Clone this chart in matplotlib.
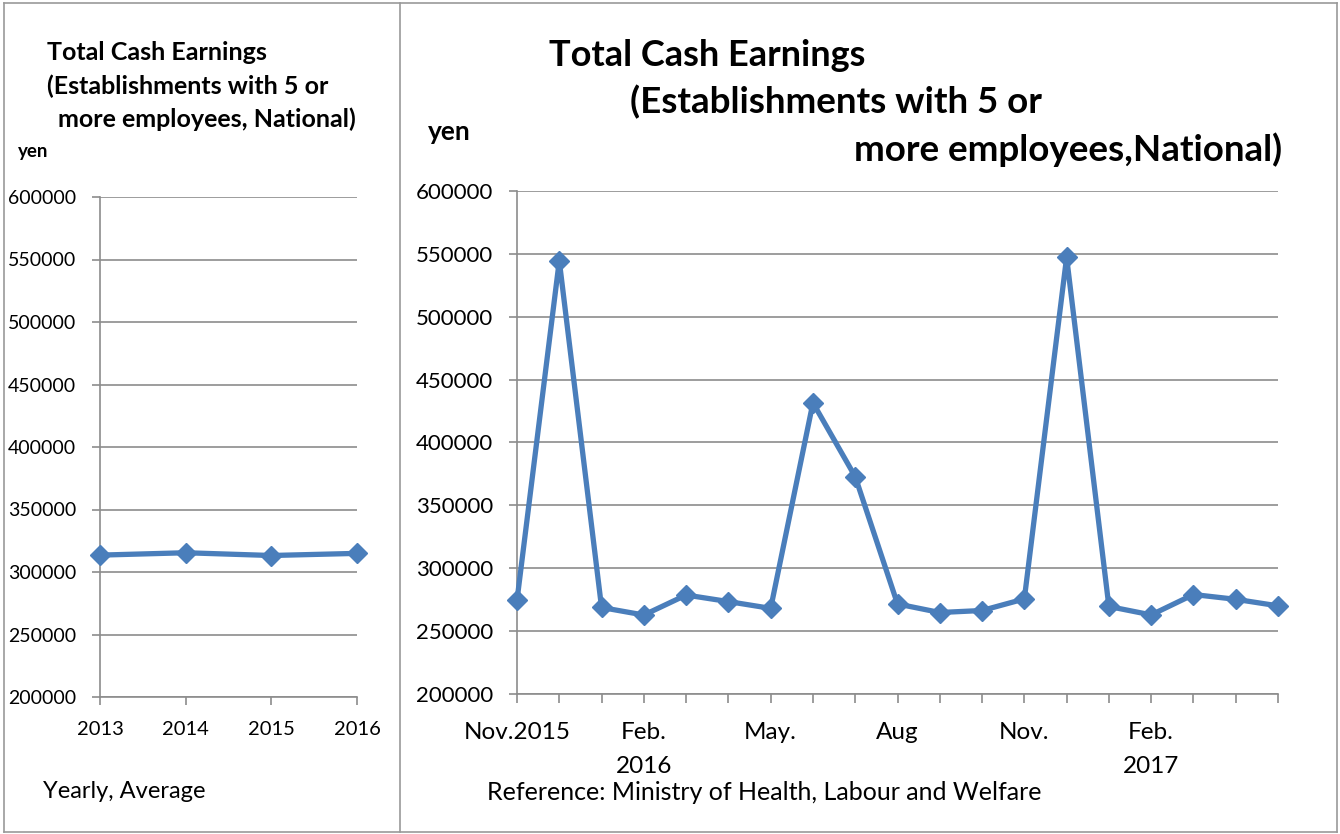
import matplotlib
matplotlib.use("Agg")
import matplotlib.pyplot as plt
from matplotlib.lines import Line2D

# ---------------- data ----------------
years = ["2013", "2014", "2015", "2016"]
yearly_avg = [313500, 315400, 313200, 314900]

months = ["Nov 2015", "Dec 2015", "Jan 2016", "Feb 2016", "Mar 2016", "Apr 2016",
          "May 2016", "Jun 2016", "Jul 2016", "Aug 2016", "Sep 2016", "Oct 2016",
          "Nov 2016", "Dec 2016", "Jan 2017", "Feb 2017", "Mar 2017", "Apr 2017",
          "May 2017"]
monthly = [274500, 544500, 268800, 262800, 278700, 273500, 268100, 431600,
           372800, 271600, 264800, 266400, 275600, 547300, 269600, 262900,
           279100, 275300, 270100]
month_labels = ["Nov.2015", "", "", "Feb.\n2016", "", "", "May.", "", "",
                "Aug", "", "", "Nov.", "", "", "Feb.\n2017", "", "", ""]
y_ticks = [200000, 250000, 300000, 350000, 400000, 450000, 500000, 550000, 600000]

W, H = 1340, 834
BLUE = "#4A7EBB"
GRID = "#8C8C8C"
FL = ["Lato", "DejaVu Sans"]

fig = plt.figure(figsize=(W / 100, H / 100), dpi=100)


def fx(x):
    return x / W


def fy(y):
    return 1 - y / H


# panel borders
for xs, ys in [([4, 1337], [3, 3]), ([4, 1337], [832, 832]), ([4, 4], [3, 832]),
               ([1337, 1337], [3, 832]), ([400, 400], [3, 832])]:
    fig.add_artist(Line2D([fx(v) for v in xs], [fy(v) for v in ys],
                          color="#999999", lw=1.2, transform=fig.transFigure))


def style_axes(ax, fs_y, fs_x, xlen, xpad):
    for s in ["top", "right"]:
        ax.spines[s].set_visible(False)
    for s in ["left", "bottom"]:
        ax.spines[s].set_color(GRID)
        ax.spines[s].set_linewidth(1.2)
    ax.set_ylim(200000, 600000)
    ax.set_yticks(y_ticks)
    ax.yaxis.grid(True, color=GRID, lw=1.2)
    ax.set_axisbelow(True)
    ax.tick_params(axis="both", color=GRID, width=1.2, direction="out")
    ax.tick_params(axis="y", length=5.5, pad=11.5)
    ax.tick_params(axis="x", length=xlen, pad=xpad)
    for lab in ax.get_yticklabels():
        lab.set_family(FL)
        lab.set_fontsize(fs_y)
    for lab in ax.get_xticklabels():
        lab.set_family(FL)
        lab.set_fontsize(fs_x)


# ---------------- left panel ----------------
axL = fig.add_axes([fx(100), fy(697), fx(357) - fx(100), fy(197) - fy(697)])
axL.plot(range(len(years)), yearly_avg, color=BLUE, lw=3.8, marker="D", ms=10,
         clip_on=False, zorder=3)
axL.set_xlim(0, len(years) - 1)
axL.set_xticks(range(len(years)))
axL.set_xticklabels(years)
axL.set_yticklabels([str(v) for v in y_ticks])
style_axes(axL, 14, 14.5, 6, 11.5)

fig.text(fx(47), fy(52), "Total Cash Earnings", fontsize=18, fontweight="bold",
         family=FL, va="center", ha="left")
fig.text(fx(47), fy(86), "(Establishments with 5 or", fontsize=18, fontweight="bold",
         family=FL, va="center", ha="left")
fig.text(fx(58), fy(119), "more employees, National)", fontsize=18, fontweight="bold",
         family=FL, va="center", ha="left")
fig.text(fx(18), fy(151), "yen", fontsize=13.5, fontweight="bold",
         family=FL, va="center", ha="left")
fig.text(fx(43), fy(791), "Yearly, Average", fontsize=17,
         family=FL, va="center", ha="left")

# ---------------- right panel ----------------
axR = fig.add_axes([fx(517), fy(694), fx(1278) - fx(517), fy(191) - fy(694)])
axR.plot(range(len(months)), monthly, color=BLUE, lw=3.8, marker="D", ms=10,
         clip_on=False, zorder=3)
axR.set_xlim(0, len(months) - 1)
axR.set_xticks(range(len(months)))
axR.set_xticklabels(month_labels, linespacing=1.75, va="top")
axR.set_yticklabels([str(v) for v in y_ticks])
style_axes(axR, 16, 17.5, 6.5, 14)

fig.text(fx(549), fy(55), "Total Cash Earnings", fontsize=26, fontweight="bold",
         family=FL, va="center", ha="left")
fig.text(fx(630), fy(102), "(Establishments with 5 or", fontsize=26.5, fontweight="bold",
         family=FL, va="center", ha="left")
fig.text(fx(1282), fy(150), "more employees,National)", fontsize=26.5, fontweight="bold",
         family=FL, va="center", ha="right")
fig.text(fx(428), fy(132), "yen", fontsize=19, fontweight="bold",
         family=FL, va="center", ha="left")
fig.text(fx(487), fy(792), "Reference: Ministry of Health, Labour and Welfare",
         fontsize=18, family=FL, va="center", ha="left")

fig.savefig("out.png", dpi=100, facecolor="white")
